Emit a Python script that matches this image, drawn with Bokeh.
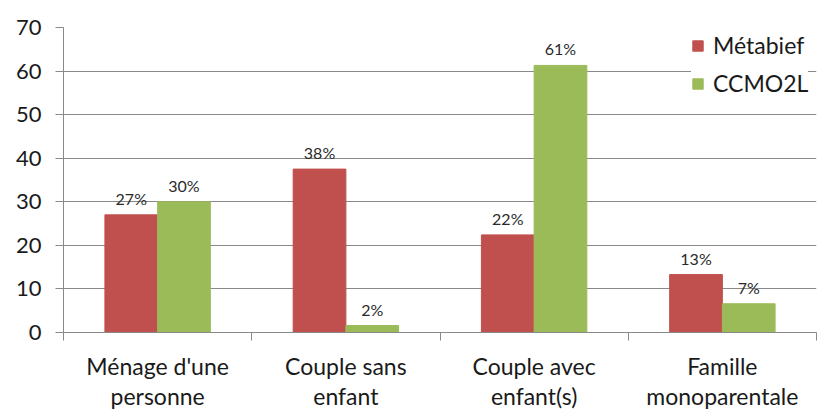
from bokeh.plotting import figure
from bokeh.models import (FactorRange, Range1d, LinearAxis, FixedTicker,
                          Legend, LegendItem, ColumnDataSource)
from bokeh.transform import dodge
from bokeh.core.properties import value
from bokeh.embed import file_html
from bokeh.resources import INLINE

categories = ["Ménage d'une\npersonne", "Couple sans\nenfant", "Couple avec\nenfant(s)", "Famille\nmonoparentale"]
metabief = [27.0, 37.5, 22.4, 13.3]
ccmo2l = [30.0, 1.6, 61.3, 6.6]
metabief_labels = ["27%", "38%", "22%", "13%"]
ccmo2l_labels = ["30%", "2%", "61%", "7%"]
y_ticks = [0, 10, 20, 30, 40, 50, 60, 70]

RED = "#C0504D"
GREEN = "#9BBB59"
GRID = "#898989"
FONT = "Lato"

src = ColumnDataSource(dict(cat=categories, m=metabief, c=ccmo2l,
                            ml=metabief_labels, cl=ccmo2l_labels))

p = figure(x_range=FactorRange(factors=categories, range_padding=0),
           y_range=Range1d(0, 70), width=817, height=412,
           output_backend="svg", toolbar_location=None, x_axis_location=None,
           min_border_left=63, min_border_right=1, min_border_top=27, min_border_bottom=79)
p.outline_line_color = None
p.background_fill_color = "white"
p.border_fill_color = "white"

r1 = p.vbar(x=dodge('cat', -0.14, range=p.x_range), top='m', width=0.28, source=src,
            fill_color=RED, line_color=RED)
r2 = p.vbar(x=dodge('cat', 0.14, range=p.x_range), top='c', width=0.28, source=src,
            fill_color=GREEN, line_color=GREEN)

for col, lab, off in (('m', 'ml', -0.14), ('c', 'cl', 0.14)):
    p.text(x=dodge('cat', off, range=p.x_range), y=col, text=lab, source=src,
           text_align='center', text_baseline='bottom', y_offset=-7,
           text_font=value(FONT), text_font_size="16px", text_color="#2a2a2a")

# y axis
p.yaxis.ticker = FixedTicker(ticks=y_ticks)
p.yaxis.minor_tick_line_color = None
p.yaxis.major_tick_in = 0
p.yaxis.major_tick_out = 8
p.yaxis.axis_line_color = GRID
p.yaxis.major_tick_line_color = GRID
p.yaxis.major_label_text_font = FONT
p.yaxis.major_label_text_font_size = "22px"
p.yaxis.major_label_text_color = "#1a1a1a"
p.yaxis.major_label_standoff = 14
p.ygrid.ticker = FixedTicker(ticks=y_ticks)
p.ygrid.grid_line_color = GRID
p.xgrid.grid_line_color = None

# x axis: labels at category centres, ticks (minor) at category boundaries
centres = [i + 0.5 for i in range(len(categories))]
bounds = [float(i) for i in range(len(categories) + 1)]
x_axis = LinearAxis(ticker=FixedTicker(ticks=centres, minor_ticks=bounds),
                    major_label_overrides=dict(zip(centres, categories)),
                    major_tick_line_color=None, major_tick_in=0, major_tick_out=0,
                    minor_tick_line_color=GRID, minor_tick_in=0, minor_tick_out=8,
                    axis_line_color=GRID,
                    major_label_text_font=FONT, major_label_text_font_size="23px",
                    major_label_text_line_height=1.08,
                    major_label_text_color="#1a1a1a", major_label_standoff=11)
p.add_layout(x_axis, "below")

legend = Legend(items=[LegendItem(label="Métabief", renderers=[r1]),
                       LegendItem(label="CCMO2L", renderers=[r2])],
                location=(628, 230), padding=14, spacing=0, label_height=38,
                glyph_width=13, glyph_height=13, label_standoff=9,
                label_text_font=FONT, label_text_font_size="23px",
                label_text_color="#1a1a1a", border_line_color=None,
                background_fill_color="white", background_fill_alpha=1.0, margin=0)
p.add_layout(legend)

open("out.html", "w").write(file_html(p, INLINE))
